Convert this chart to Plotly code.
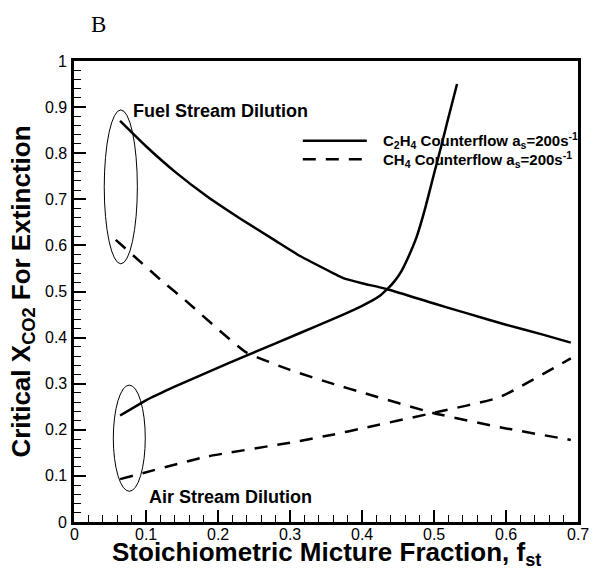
import plotly.graph_objects as go

# C2H4 counterflow, fuel stream dilution (solid, decreasing)
c2h4_fuel_x = [0.064, 0.10, 0.14, 0.185, 0.23, 0.278, 0.314, 0.361, 0.374, 0.40, 0.435, 0.50, 0.545, 0.60, 0.65, 0.69]
c2h4_fuel_y = [0.870, 0.815, 0.760, 0.706, 0.659, 0.612, 0.577, 0.539, 0.529, 0.518, 0.505, 0.474, 0.453, 0.428, 0.407, 0.389]

# C2H4 counterflow, air stream dilution (solid, increasing)
c2h4_air_x = [0.064, 0.10, 0.139, 0.19, 0.241, 0.314, 0.361, 0.39, 0.41, 0.425, 0.435, 0.445, 0.455, 0.465,
              0.476, 0.488, 0.499, 0.51, 0.518, 0.532]
c2h4_air_y = [0.231, 0.264, 0.293, 0.328, 0.362, 0.410, 0.441, 0.461, 0.477, 0.491, 0.505, 0.522, 0.545, 0.577,
              0.619, 0.682, 0.749, 0.815, 0.865, 0.950]

# CH4 counterflow, fuel stream dilution (dashed)
ch4_fuel_x = [0.058, 0.125, 0.153, 0.238, 0.30, 0.361, 0.40, 0.50, 0.60, 0.69]
ch4_fuel_y = [0.612, 0.519, 0.483, 0.369, 0.330, 0.299, 0.281, 0.236, 0.203, 0.178]

# CH4 counterflow, air stream dilution (dashed)
ch4_air_x = [0.064, 0.185, 0.30, 0.361, 0.40, 0.50, 0.59, 0.69]
ch4_air_y = [0.093, 0.142, 0.172, 0.190, 0.203, 0.237, 0.270, 0.355]

legend_labels = ["C<sub>2</sub>H<sub>4</sub> Counterflow a<sub>s</sub>=200s<sup>-1</sup>",
                 "CH<sub>4</sub> Counterflow a<sub>s</sub>=200s<sup>-1</sup>"]

x_ticks = [0, 0.1, 0.2, 0.3, 0.4, 0.5, 0.6, 0.7]
x_tick_labels = ["0", "0.1", "0.2", "0.3", "0.4", "0.5", "0.6", "0.7"]
y_ticks = [0, 0.1, 0.2, 0.3, 0.4, 0.5, 0.6, 0.7, 0.8, 0.9, 1]
y_tick_labels = ["0", "0.1", "0.2", "0.3", "0.4", "0.5", "0.6", "0.7", "0.8", "0.9", "1"]

LW = 2.5
DASH = "13px,10px"
FAM = "Liberation Sans, Arial, sans-serif"

fig = go.Figure()
fig.add_trace(go.Scatter(x=c2h4_fuel_x, y=c2h4_fuel_y, mode="lines",
                         line=dict(color="black", width=LW, shape="spline", smoothing=0.5), showlegend=False))
fig.add_trace(go.Scatter(x=c2h4_air_x, y=c2h4_air_y, mode="lines",
                         line=dict(color="black", width=LW, shape="spline", smoothing=0.3), showlegend=False))
fig.add_trace(go.Scatter(x=ch4_fuel_x, y=ch4_fuel_y, mode="lines",
                         line=dict(color="black", width=LW, dash=DASH, shape="spline", smoothing=0.4), showlegend=False))
fig.add_trace(go.Scatter(x=ch4_air_x, y=ch4_air_y, mode="lines",
                         line=dict(color="black", width=LW, dash=DASH, shape="spline", smoothing=0.4), showlegend=False))

# ellipses
fig.add_shape(type="circle", xref="x", yref="y", x0=0.042, x1=0.088, y0=0.56, y1=0.894,
              line=dict(color="black", width=1))
fig.add_shape(type="circle", xref="x", yref="y", x0=0.0546, x1=0.099, y0=0.0666, y1=0.297,
              line=dict(color="black", width=1))

# legend (manual)
fig.add_shape(type="line", xref="paper", yref="paper", x0=0.454, x1=0.581, y0=0.827, y1=0.827,
              line=dict(color="black", width=LW))
fig.add_shape(type="line", xref="paper", yref="paper", x0=0.454, x1=0.581, y0=0.787, y1=0.787,
              line=dict(color="black", width=LW, dash=DASH))

txtfont = dict(family=FAM, color="black")
ann = []
ann.append(dict(xref="paper", yref="paper", x=0.609, y=0.827, xanchor="left", yanchor="middle",
                text="<b>" + legend_labels[0] + "</b>", showarrow=False, font=dict(size=15, **txtfont)))
ann.append(dict(xref="paper", yref="paper", x=0.609, y=0.787, xanchor="left", yanchor="middle",
                text="<b>" + legend_labels[1] + "</b>", showarrow=False, font=dict(size=15, **txtfont)))
ann.append(dict(xref="x", yref="y", x=0.0796, y=0.8915, xanchor="left", yanchor="middle",
                text="<b>Fuel Stream Dilution</b>", showarrow=False, font=dict(size=18, **txtfont)))
ann.append(dict(xref="x", yref="y", x=0.102, y=0.055, xanchor="left", yanchor="middle",
                text="<b>Air Stream Dilution</b>", showarrow=False, font=dict(size=18, **txtfont)))
ann.append(dict(xref="paper", yref="paper", x=0.0496, y=1.080, xanchor="center", yanchor="middle",
                text="B", showarrow=False,
                font=dict(size=23, family="Liberation Serif, Times New Roman, serif", color="black")))
ann.append(dict(xref="paper", yref="paper", x=0.5, y=-0.068, xanchor="center", yanchor="middle",
                text="<b>Stoichiometric Micture Fraction, f<sub>st</sub></b>", showarrow=False,
                font=dict(size=26, **txtfont)))
ann.append(dict(xref="paper", yref="paper", x=-0.103, y=0.5, xanchor="center", yanchor="middle",
                text="<b>Critical X<sub>CO2</sub> For Extinction</b>", showarrow=False, textangle=-90,
                font=dict(size=26, **txtfont)))

# tick labels as annotations at the axis tick positions
for v, lab in zip(x_ticks, x_tick_labels):
    ann.append(dict(xref="x", yref="paper", x=v, y=0, xanchor="center", yanchor="middle", yshift=-12,
                    text=lab, showarrow=False, font=dict(size=16, **txtfont)))
for v, lab in zip(y_ticks, y_tick_labels):
    ann.append(dict(xref="paper", yref="y", x=0, y=v, xanchor="right", yanchor="middle", xshift=-5,
                    text=lab, showarrow=False, font=dict(size=16, **txtfont)))

axis_common = dict(showgrid=False, zeroline=False, showline=True, linecolor="black", linewidth=3, mirror=True,
                   ticks="inside", ticklen=12, tickwidth=2, tickcolor="black", showticklabels=False,
                   minor=dict(dtick=0.02, ticks="inside", ticklen=7, tickwidth=1, tickcolor="black",
                              showgrid=False))
fig.update_layout(
    width=593, height=569,
    margin=dict(l=74, r=15, t=61, b=47),
    paper_bgcolor="white", plot_bgcolor="white",
    annotations=ann,
    font=dict(family=FAM, color="black", size=16),
    xaxis=dict(range=[0, 0.7], tickmode="array", tickvals=x_ticks, **axis_common),
    yaxis=dict(range=[0, 1], tickmode="array", tickvals=y_ticks, **axis_common),
)

fig.write_html("out.html")
